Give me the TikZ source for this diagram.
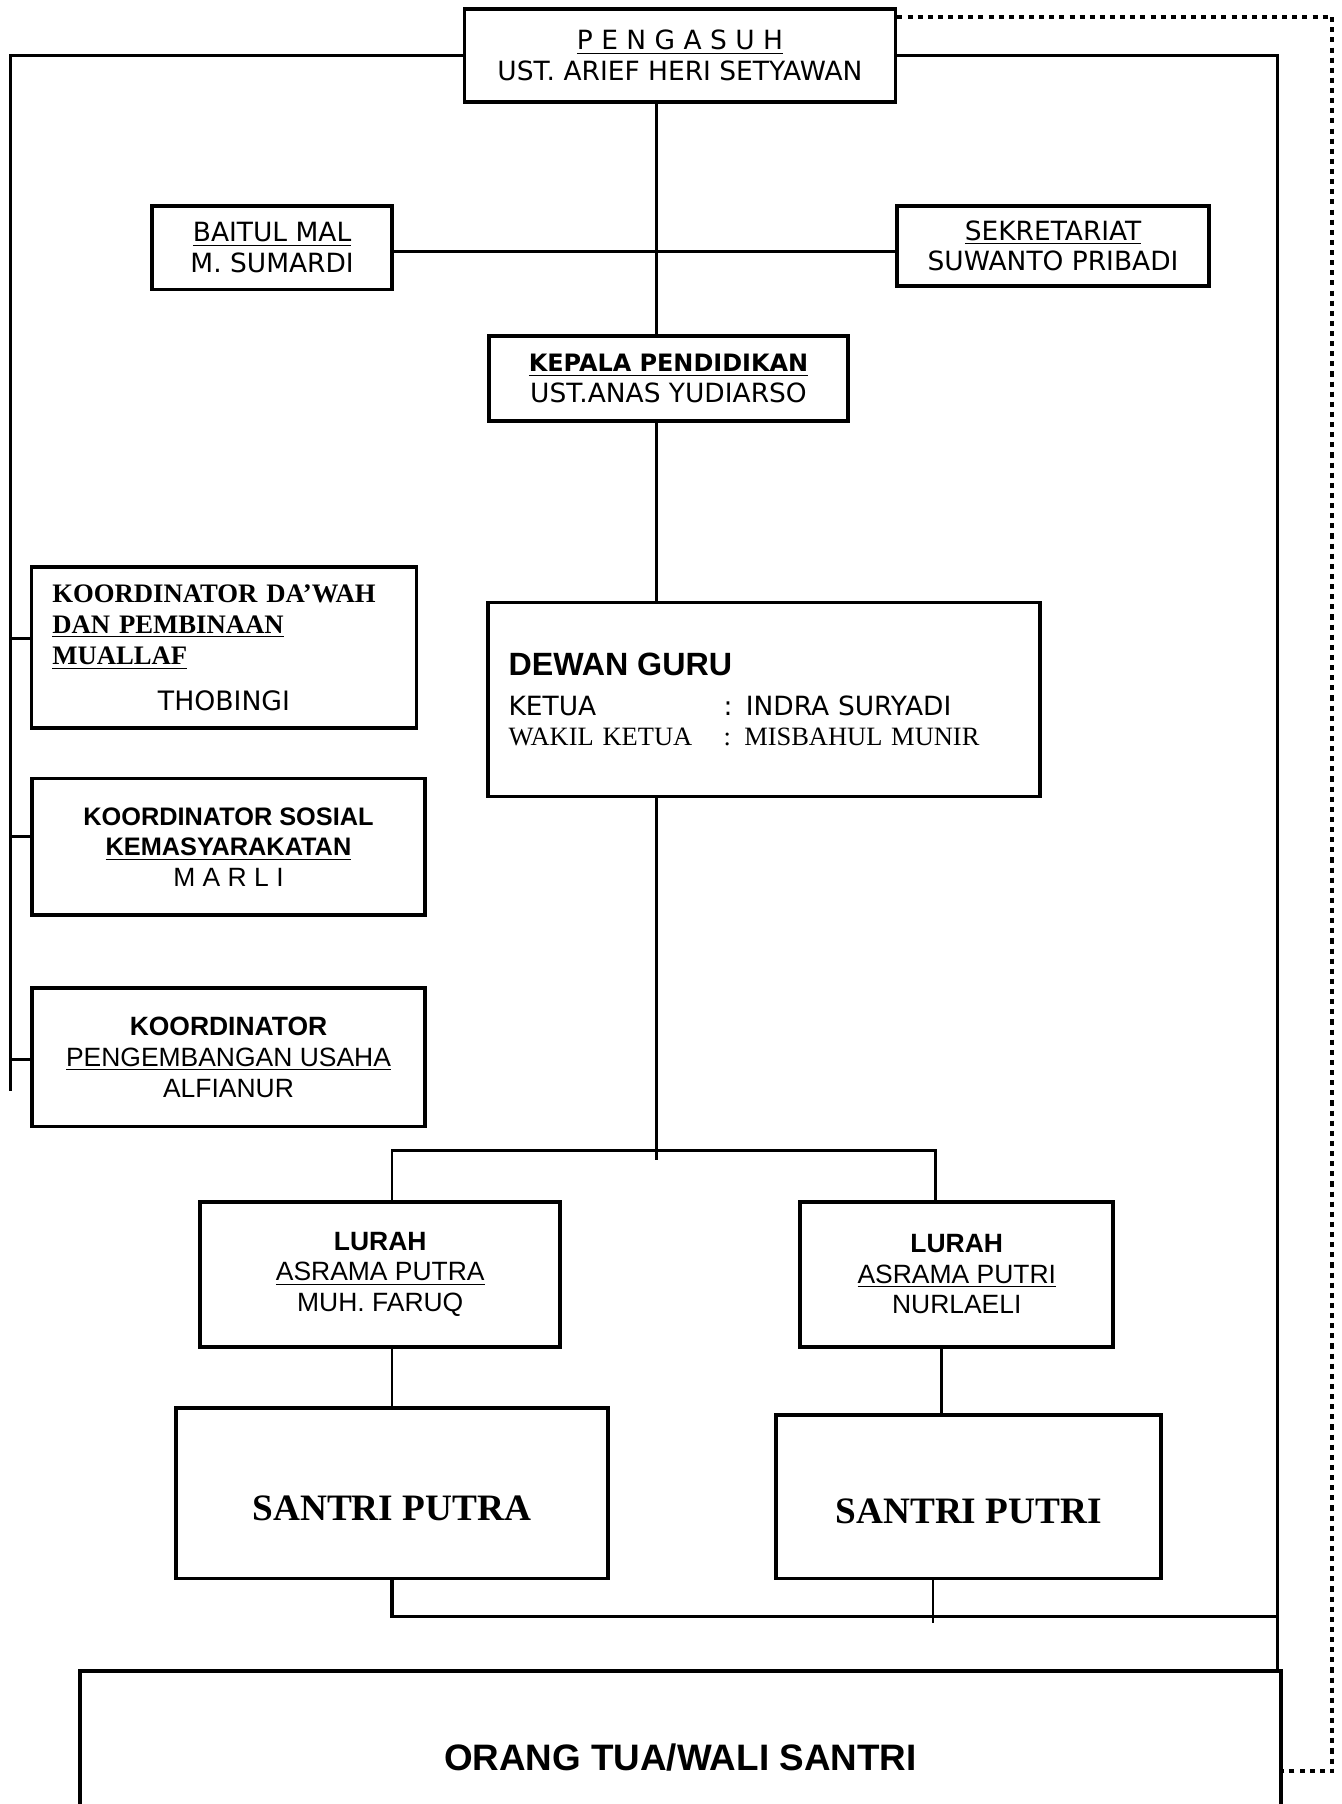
\documentclass[tikz,border=0pt]{standalone}
\usepackage{fontspec}
\setmainfont{Liberation Sans}
\newfontfamily\dejavu{DejaVu Sans}
\newfontfamily\timesrm{Liberation Serif}

\begin{document}
\begin{tikzpicture}[x=0.5pt, y=-0.5pt,
  unit/.style={draw, line width=1.6pt, inner sep=0pt, align=center},
  dv/.style={font=\dejavu\fontsize{11.5}{13.3}\selectfont},
  ls/.style={font=\fontsize{11.5}{13.3}\selectfont},
  wire/.style={line width=1.2pt},
  frameline/.style={line width=1.5pt},
  dotline/.style={line width=1.7pt, dash pattern=on 2.2pt off 2.2pt}]
\useasboundingbox (0,0) rectangle (1166,1568);
\node[unit, dv, minimum width=187.4pt, minimum height=40.3pt] (pengasuh) at (591,48.2){\underline{P E N G A S U H}\\UST. ARIEF HERI SETYAWAN};
\node[unit, dv, minimum width=104.2pt, minimum height=36.2pt] (baitulmal) at (236.5,215.3){\underline{BAITUL MAL}\\M. SUMARDI};
\node[unit, dv, minimum width=135.8pt, minimum height=34.7pt] (sekretariat) at (915.3,213.7){\underline{SEKRETARIAT}\\SUWANTO PRIBADI};
\node[unit, dv, minimum width=156.2pt, minimum height=36.9pt] (kepala) at (581,329){{\bfseries\fontsize{10.4}{13.3}\selectfont\underline{KEPALA PENDIDIKAN}}\\UST.ANAS YUDIARSO};
\node[unit, font=\timesrm\bfseries\fontsize{11.6}{13.5}\selectfont, align=left, text width=149.2pt, inner xsep=9pt, minimum width=167.2pt, minimum height=70pt] (dawah) at (194.7,563){KOORDINATOR DA’WAH\\\underline{DAN PEMBINAAN}\\\underline{MUALLAF}\\[6.4pt]\makebox[149.2pt]{\dejavu\mdseries THOBINGI}};
\node[unit, ls, minimum width=171pt, minimum height=59.3pt] (sosial) at (198.6,736){{\bfseries\fontsize{11}{13.3}\selectfont KOORDINATOR SOSIAL}\\{\bfseries\fontsize{11}{13.3}\selectfont\underline{KEMASYARAKATAN}}\\M A R L I};
\node[unit, ls, minimum width=171pt, minimum height=60pt] (usaha) at (198.6,919){{\bfseries KOORDINATOR}\\\underline{PENGEMBANGAN USAHA}\\ALFIANUR};
\node[unit, ls, align=left, text width=222pt, inner xsep=9pt, minimum width=240pt, minimum height=84.2pt] (dewan) at (664,608){{\bfseries\fontsize{14}{14}\selectfont DEWAN GURU}\\[4pt]{\dejavu\makebox[93.5pt][l]{KETUA}: INDRA SURYADI}\\{\timesrm\makebox[93.5pt][l]{WAKIL KETUA}: MISBAHUL MUNIR}};
\node[unit, ls, minimum width=156.5pt, minimum height=63pt] (lurahputra) at (330.5,1107.5){{\bfseries LURAH}\\\underline{ASRAMA PUTRA}\\MUH. FARUQ};
\node[unit, ls, minimum width=136pt, minimum height=63pt] (lurahputri) at (831.6,1107.5){{\bfseries LURAH}\\\underline{ASRAMA PUTRI}\\NURLAELI};
\node[unit, minimum width=188pt, minimum height=74pt] (santriputra) at (340.7,1298){};
\node[unit, minimum width=167.3pt, minimum height=71pt] (santriputri) at (842,1301){};
\node[font=\timesrm\bfseries\fontsize{16.2}{18}\selectfont] (santriputralabel) at (340.5,1311){SANTRI PUTRA};
\node[font=\timesrm\bfseries\fontsize{16.2}{18}\selectfont] (santriputrilabel) at (842,1314){SANTRI PUTRI};
\node[unit, font=\bfseries\fontsize{16}{18}\selectfont, minimum width=522pt, minimum height=75pt] (wali) at (591.3,1527.5){ORANG TUA/WALI SANTRI};
% garis bantu
\coordinate (axis) at (570.5,0);
\coordinate (staff) at (0,218.8);
\coordinate (rightbar) at (1110.5,0);
\coordinate (leftend) at (9,948);
\coordinate (tickA) at (9,555);
\coordinate (tickB) at (9,727);
\coordinate (tickC) at (9,921);
\coordinate (forkL) at (340.7,1000);
\coordinate (forkR) at (813,1000);
\coordinate (forkend) at (570.5,1008);
\coordinate (putriline) at (818,0);
\coordinate (putrifoot) at (811,1411);
\coordinate (baseL) at (340.7,1405);
\coordinate (baseR) at (1110.5,1405);
\coordinate (dotturn) at (1158,14.5);
\coordinate (dotlow) at (1158,1539.6);
\draw[wire](pengasuh.south -| axis) -- (kepala.north -| axis);
\draw[frameline](baitulmal.east |- staff) -- (sekretariat.west |- staff);
\draw[wire](kepala.south -| axis) -- (dewan.north -| axis);
\draw[wire](dewan.south -| axis) -- (forkend);
\draw[wire](lurahputra.north -| forkL) -- (forkL) -- (forkR) -- (lurahputri.north -| forkR);
\draw[wire](lurahputra.south -| forkL) -- (santriputra.north -| forkL);
\draw[wire](lurahputri.south -| putriline) -- (santriputri.north -| putriline);
\draw[frameline](santriputra.south -| baseL) -- (baseL) -- (baseR);
\draw[wire](santriputri.south -| putrifoot) -- (putrifoot);
\draw[frameline](pengasuh.west) -| (leftend);
\draw[wire](tickA) -- (tickA -| dawah.west);
\draw[wire](tickB) -- (tickB -| sosial.west);
\draw[wire](tickC) -- (tickC -| usaha.west);
\draw[frameline](pengasuh.east) -| (wali.north -| rightbar);
\draw[dotline](pengasuh.east |- dotturn) -- (dotturn) -- (dotlow) -- (wali.east |- dotlow);
\end{tikzpicture}
\end{document}
